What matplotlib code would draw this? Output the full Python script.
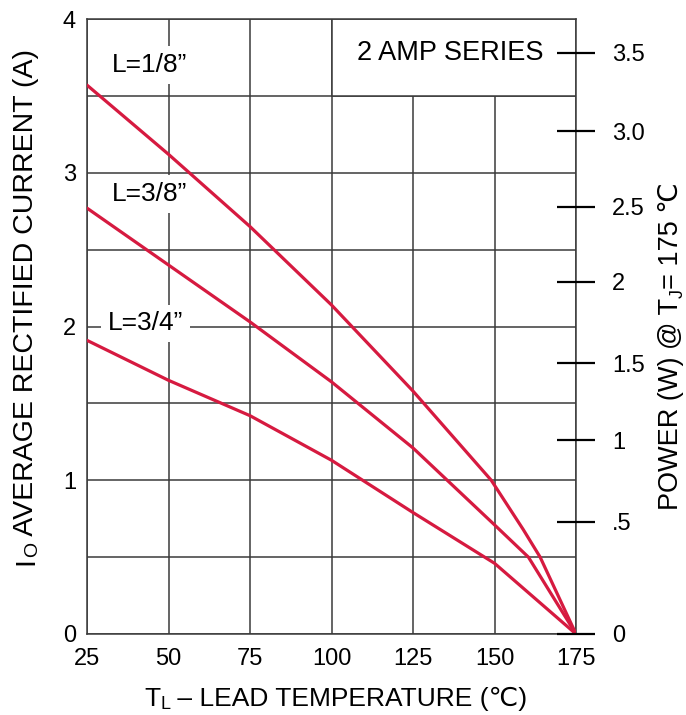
"""
Lead-temperature derating curves for the 2 A rectifier series.
"""

import matplotlib

matplotlib.use("Agg")
import matplotlib.pyplot as plt
from matplotlib.patches import Rectangle

FIG_W_PX = 686
FIG_H_PX = 715
DPI = 100

GRID_COLOR = "#3a3a3a"
CURVE_COLOR = "#d61a40"

plt.rcParams["font.family"] = ["Liberation Sans", "DejaVu Sans"]

# lead temperature (C) vs average rectified current (A)
temp_18 = [25, 50, 75, 100, 125, 149, 158.8, 164, 175]
curr_18 = [3.57, 3.12, 2.65, 2.14, 1.58, 1.00, 0.68, 0.50, 0.0]

temp_38 = [25, 50, 75, 100, 125, 150, 160.4, 175]
curr_38 = [2.77, 2.40, 2.03, 1.64, 1.21, 0.71, 0.50, 0.0]

temp_34 = [25, 50, 75, 100, 125, 150, 175]
curr_34 = [1.91, 1.65, 1.42, 1.13, 0.79, 0.46, 0.0]

curve_names = ["L=1/8\u201d", "L=3/8\u201d", "L=3/4\u201d"]

x_ticks = [25, 50, 75, 100, 125, 150, 175]
y_ticks = [0, 1, 2, 3, 4]

# right-hand power scale is not linear with the current axis
power_labels = ["0", ".5", "1", "1.5", "2", "2.5", "3.0", "3.5"]
power_pos = [0, 0.73, 1.26, 1.76, 2.29, 2.78, 3.27, 3.78]


def chained_label(axis, first, sub, rest, x0, y0, size, sub_size, rotated):
    """Text with a subscript, built from three pieces placed one after another."""
    drop = 3.0
    shift = drop + 0.212 * sub_size - 0.212 * size
    rot = 90 if rotated else 0
    head = axis.annotate(
        first, xy=(x0, y0), xycoords="figure pixels", rotation=rot,
        rotation_mode="anchor", ha="left", va="baseline", fontsize=size,
        annotation_clip=False,
    )
    if rotated:
        low = axis.annotate(
            sub, xy=(1, 1), xycoords=head, xytext=(shift, 0),
            textcoords="offset points", rotation=90, ha="right", va="bottom",
            fontsize=sub_size, annotation_clip=False,
        )
        axis.annotate(
            rest, xy=(1, 1), xycoords=(head, low), rotation=90, ha="right",
            va="bottom", fontsize=size, annotation_clip=False,
        )
    else:
        low = axis.annotate(
            sub, xy=(1, 0), xycoords=head, xytext=(0, -shift),
            textcoords="offset points", ha="left", va="bottom",
            fontsize=sub_size, annotation_clip=False,
        )
        axis.annotate(
            rest, xy=(1, 0), xycoords=(low, head), ha="left", va="bottom",
            fontsize=size, annotation_clip=False,
        )


fig = plt.figure(figsize=(FIG_W_PX / DPI, FIG_H_PX / DPI), dpi=DPI)
left, right, top, bottom = 87, 576, 19, 634
ax = fig.add_axes([
    left / FIG_W_PX,
    1 - bottom / FIG_H_PX,
    (right - left) / FIG_W_PX,
    (bottom - top) / FIG_H_PX,
])

ax.set_xlim(25, 175)
ax.set_ylim(0, 4)
ax.set_xticks(x_ticks)
ax.set_yticks(y_ticks)
ax.set_yticks([0.5, 1.5, 2.5, 3.5], minor=True)
ax.tick_params(axis="both", which="both", length=0, labelsize=17)
ax.tick_params(axis="x", pad=10)
ax.tick_params(axis="y", pad=8)
ax.set_axisbelow(True)
ax.grid(True, which="both", color=GRID_COLOR, linewidth=1.1)
for spine in ax.spines.values():
    spine.set_color(GRID_COLOR)
    spine.set_linewidth(1.1)

for temps, currents in [(temp_18, curr_18), (temp_38, curr_38), (temp_34, curr_34)]:
    ax.plot(temps, currents, color=CURVE_COLOR, linewidth=2.3, zorder=3,
            solid_joinstyle="round", solid_capstyle="round")

# white panel for the series title, bordered by the grid
ax.add_patch(Rectangle((100, 3.5), 75, 0.5, facecolor="white",
                       edgecolor=GRID_COLOR, linewidth=1.1, zorder=1))
ax.text(136.4, 3.78, "2 AMP SERIES", ha="center", va="center",
        fontsize=19.5, zorder=2)

label_spots = [(32.7, 3.70), (32.7, 2.86), (31.4, 2.02)]
for name, (lx, ly) in zip(curve_names, label_spots):
    ax.text(lx, ly, name, ha="left", va="center", fontsize=19, zorder=2,
            bbox=dict(facecolor="white", edgecolor="none", pad=5))

# right-hand power scale
ax2 = ax.twinx()
ax2.set_ylim(0, 4)
ax2.set_yticks(power_pos)
ax2.set_yticklabels(power_labels)
ax2.tick_params(axis="y", direction="inout", length=27, width=1.6,
                color="black", labelsize=17, pad=12.5)
for spine in ax2.spines.values():
    spine.set_visible(False)

chained_label(ax, "T", "L", " \u2013 LEAD TEMPERATURE (\u2103)",
              144, FIG_H_PX - 706, 19, 13, rotated=False)
chained_label(ax, "I", "O", " AVERAGE RECTIFIED CURRENT (A)",
              33, FIG_H_PX - 565, 20.5, 14, rotated=True)
chained_label(ax, "POWER (W) @ T", "J", "= 175 \u2103",
              678, FIG_H_PX - 510, 19.5, 13, rotated=True)

fig.savefig("out.png", dpi=DPI)
plt.close(fig)
